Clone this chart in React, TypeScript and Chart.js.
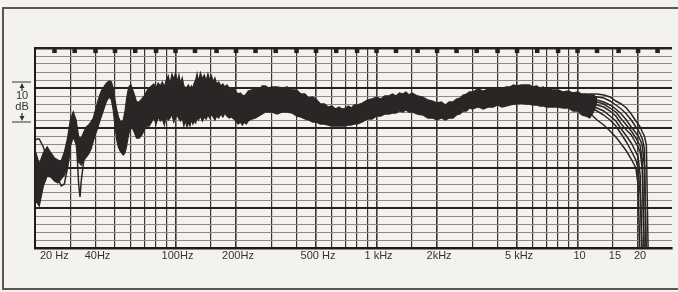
import React, { useEffect, useRef } from 'react';
import { Chart, registerables } from 'chart.js';

Chart.register(...registerables);

const PAPER = '#f4f2ef';
const INK = '#2b2626';

// vertical grid frequencies (Hz)
const gridFreqs = [20, 30, 40, 50, 60, 70, 80, 90, 100, 150, 200, 300, 400, 500, 600, 700, 800, 900,
  1000, 1500, 2000, 3000, 4000, 5000, 6000, 7000, 8000, 9000, 10000, 15000, 20000];
// horizontal grid (dB)
const dbGrid = [0, 2, 4, 6, 8, 10, 12, 14, 16, 18, 20, 22, 24, 26, 28, 30, 32, 34, 36, 38, 40, 42, 44, 46, 48, 50];

// frequency axis labels
const labelFreqs = [20, 40, 100, 200, 500, 1000, 2000, 5000, 10000, 15000, 20000];
const labelTexts = ['20 Hz', '40Hz', '100Hz', '200Hz', '500 Hz', '1 kHz', '2kHz', '5 kHz', '10', '15', '20'];

// third-octave marker squares along the top edge
const markerFreqs = [25, 31.5, 40, 50, 63, 80, 100, 125, 160, 200, 250, 315, 400, 500, 630, 800, 1000,
  1250, 1600, 2000, 2500, 3150, 4000, 5000, 6300, 8000, 10000, 12500, 16000, 20000, 25000];
const markerLevel = 49.3;

// 10 dB scale marker
const markTop = 41.5;
const markBottom = 31.5;

// band of overlaid measurement traces: upper / lower envelopes (dB)
const bandFreq = [
  20, 21, 22, 23, 24, 25, 26, 27, 28, 29,
  30, 31, 32, 33, 34, 35, 36, 37, 38, 39,
  40, 41, 42, 43, 44, 45, 46, 47, 48, 49,
  50, 51, 52, 53, 54, 55, 56, 57, 58, 59,
  60, 62, 64, 66, 68, 70, 72, 74, 76, 78,
  80, 82, 84, 86, 88, 90, 92, 94, 96, 98,
  100, 102, 104, 106, 108, 110, 112, 114, 116, 118,
  120, 122, 124, 126, 128, 130, 133, 136, 139,
  142, 145, 148, 151, 154, 157, 160, 164, 168, 172,
  176, 180, 185, 190, 195, 200, 205, 210, 215, 220, 225,
  230, 240, 250, 260, 270, 280, 290, 300,
  320, 340, 360, 380, 400, 420, 440, 460, 480,
  500, 525, 550, 575, 600, 625, 650, 675, 700, 725, 750, 775, 800,
  850, 900, 950, 1000, 1050, 1100, 1150, 1200, 1250, 1300, 1350, 1400, 1450, 1500,
  1600, 1700, 1800, 1900, 2000, 2100, 2200, 2300, 2400, 2500, 2600, 2700, 2800, 2900, 3000,
  3200, 3400, 3600, 3800, 4000, 4200, 4400, 4600, 4800, 5000,
  5250, 5500, 5750, 6000, 6250, 6500, 6750, 7000, 7250, 7500,
  8000, 8500, 9000, 9500, 10000, 10500, 11000, 11500, 12000, 12500,
];
const bandUpper = [
  24.5, 21.0, 23.75, 25.25, 23.75, 22.5, 22.0, 21.75, 24.0, 27.25,
  32.0, 34.0, 32.0, 27.75, 27.5, 29.0, 30.25, 30.75, 31.5, 32.5,
  34.5, 36.5, 38.25, 39.5, 40.25, 41.0, 41.5, 41.75, 41.5, 39.75,
  37.0, 34.5, 32.75, 31.75, 31.5, 32.0, 34.0, 37.0, 39.25, 40.5,
  40.75, 38.75, 36.5, 36.5, 37.25, 38.0, 39.25, 40.0, 40.5, 41.0,
  40.0, 41.25, 40.5, 41.5, 40.25, 42.0, 43.0, 41.0, 43.5, 42.0,
  43.75, 41.5, 43.25, 41.0, 42.5, 40.5, 40.0, 40.25, 40.75, 39.75,
  40.5, 40.0, 41.25, 42.0, 43.5, 41.5, 43.75, 42.25, 43.25,
  41.75, 43.5, 42.0, 43.0, 41.5, 42.5, 41.0, 41.5, 40.5, 41.0,
  40.25, 40.75, 40.0, 39.5, 39.75, 39.0, 38.5, 38.75, 38.25, 38.0, 38.5,
  39.25, 39.5, 40.0, 39.5, 40.5, 40.5, 40.0, 40.25,
  40.25, 40.0, 40.25, 39.5, 39.5, 38.5, 38.5, 37.5, 37.75,
  37.25, 36.0, 36.0, 35.25, 35.5, 34.75, 35.25, 34.75, 35.0, 35.5, 35.0, 35.75, 35.75,
  36.25, 37.0, 37.25, 37.75, 37.25, 38.0, 38.0, 38.5, 38.0, 38.75, 38.5, 39.0, 38.25, 38.75,
  38.0, 37.75, 37.0, 36.75, 36.25, 36.5, 35.75, 36.5, 36.5, 37.25, 37.5, 38.25, 38.5, 39.0, 39.0,
  39.75, 39.25, 39.75, 39.75, 40.0, 39.75, 40.25, 40.25, 40.75, 40.5,
  40.75, 40.75, 40.75, 40.25, 40.5, 40.0, 40.25, 39.75, 39.75, 39.5,
  39.5, 39.0, 39.25, 38.75, 39.0, 38.5, 38.5, 38.25, 38.25, 37.5,
];
const bandLower = [
  12.0, 10.5, 15.5, 18.0, 17.75, 16.75, 16.25, 17.25, 18.25, 20.5,
  25.5, 27.75, 26.0, 21.5, 20.75, 22.0, 22.75, 23.5, 24.75, 26.75,
  28.5, 30.0, 31.75, 33.25, 34.75, 36.25, 37.25, 37.75, 37.0, 34.5,
  30.5, 27.0, 25.25, 24.25, 23.75, 23.25, 23.75, 25.25, 27.5, 29.25,
  30.5, 29.25, 27.5, 27.5, 28.25, 29.5, 30.5, 30.5, 31.5, 32.5,
  31.0, 32.75, 31.75, 32.25, 30.75, 33.0, 32.0, 32.5, 33.5, 31.5,
  32.5, 33.25, 32.25, 31.75, 32.75, 30.5, 32.0, 30.25, 31.5, 30.5,
  32.25, 31.0, 31.75, 31.25, 32.75, 32.0, 33.0, 31.75, 32.75,
  32.25, 33.25, 32.5, 33.5, 32.75, 32.0, 33.0, 32.5, 33.5, 32.75,
  33.75, 33.0, 32.5, 32.75, 32.25, 31.75, 31.0, 31.5, 30.75, 31.5, 31.0,
  31.75, 32.25, 32.5, 33.0, 33.5, 34.0, 34.0, 34.0,
  33.5, 34.0, 34.0, 33.75, 33.0, 32.75, 32.25, 32.0, 31.5,
  31.5, 31.0, 31.0, 30.75, 30.5, 30.5, 30.5, 30.5, 30.5, 30.75, 30.75, 31.0, 31.0,
  31.5, 32.25, 32.25, 33.0, 33.0, 33.5, 33.5, 33.75, 33.75, 34.25, 34.0, 34.5, 34.0, 34.0,
  33.5, 33.25, 32.5, 32.5, 32.0, 32.5, 32.0, 32.5, 32.5, 33.25, 33.5, 34.25, 34.25, 35.0, 34.75,
  35.25, 34.75, 35.25, 35.25, 35.75, 35.25, 35.5, 35.75, 36.0, 36.0,
  36.25, 36.0, 36.0, 35.75, 35.75, 35.5, 35.5, 35.25, 35.25, 35.25,
  35.25, 35.0, 35.0, 34.25, 34.25, 33.25, 33.0, 32.5, 34.0, 36.5,
];

// individual traces separating in the treble roll-off
const hfFreq = [10000, 10500, 11500, 12500, 13500, 14500, 15500, 16500, 17500, 18500, 19500, 20000, 20500, 21000, 21500, 22000, 22500];
const hfTrace1 = [38.5, 38.25, 38.5, 38.5, 38.25, 37.75, 36.75, 36.0, 35.0, 33.5, 31.75, 31.0, 30.25, 29.0, 28.0, 25.75, -4];
const hfTrace2 = [38.5, 38.0, 38.0, 37.75, 37.5, 36.75, 35.75, 34.75, 33.5, 32.0, 30.25, 29.5, 28.5, 27.25, 25.0, -4, null];
const hfTrace3 = [38.25, 37.75, 37.5, 37.0, 36.5, 35.75, 34.75, 33.5, 32.0, 30.25, 28.75, 28.0, 27.0, 25.5, 20.75, -4, null];
const hfTrace4 = [38.0, 37.5, 37.0, 36.5, 36.0, 35.0, 34.0, 32.25, 30.75, 29.25, 27.5, 26.5, 25.5, 22.0, -4, null, null];
const hfTrace5 = [37.75, 37.0, 36.25, 35.75, 35.25, 34.25, 33.0, 31.0, 29.5, 28.25, 26.25, 25.25, 24.0, 19.5, -4, null, null];
const hfTrace6 = [37.5, 36.5, 35.75, 35.0, 34.25, 33.0, 31.75, 29.75, 28.0, 26.25, 24.0, 22.75, 18.0, -4, null, null, null];
const hfTrace7 = [37.0, 36.0, 35.25, 34.25, 33.25, 32.0, 30.5, 28.5, 26.5, 24.25, 22.0, 20.0, 13.25, -4, null, null, null];
const hfTrace8 = [36.5, 35.25, 33.75, 32.0, 30.75, 29.25, 27.75, 26.0, 24.25, 22.25, 20.0, 15.75, -4, null, null, null, null];

// individual traces straying from the band in the bass
const lfArchFreq = [20, 20.5, 21, 22, 23];
const lfArch = [27.0, 27.25, 27.25, 25.25, 22.0];
const lfDipAFreq = [31, 32, 33, 33.5, 34, 35, 36];
const lfDipA = [32.0, 28.25, 15.75, 12.75, 17.0, 22.0, 24.5];
const lfDipBFreq = [25, 26, 27, 28, 29, 30];
const lfDipB = [19.0, 17.5, 15.5, 16.0, 20.0, 24.5];

const pts = (xs: number[], ys: (number | null)[]) => xs.map((x, i) => ({ x, y: ys[i] }));

const boldFreqs = [20, 100, 200, 500, 1000, 2000, 5000, 10000, 20000];

const annotPlugin = {
  id: 'annot',
  afterDraw(chart: any) {
    const { ctx, chartArea } = chart;
    const xs = chart.scales.x;
    const ys = chart.scales.y;
    ctx.save();
    ctx.fillStyle = '#333';
    ctx.font = '11px "Liberation Sans", Arial, sans-serif';
    ctx.textBaseline = 'middle';
    const ly = chartArea.bottom + 8;
    labelFreqs.forEach((f, i) => {
      const px = xs.getPixelForValue(f);
      if (i === 0) {
        ctx.textAlign = 'left';
        ctx.fillText(labelTexts[i], px + 5, ly);
      } else {
        ctx.textAlign = 'center';
        ctx.fillText(labelTexts[i], px + 2, ly);
      }
    });

    // 10 dB marker
    const yT = ys.getPixelForValue(markTop);
    const yB = ys.getPixelForValue(markBottom);
    const cx = 22;
    ctx.strokeStyle = '#333';
    ctx.lineWidth = 1.2;
    ctx.beginPath();
    ctx.moveTo(12, yT); ctx.lineTo(31, yT);
    ctx.moveTo(12, yB); ctx.lineTo(31, yB);
    ctx.moveTo(cx, yT + 5); ctx.lineTo(cx, yT + 9);
    ctx.moveTo(cx, yB - 5); ctx.lineTo(cx, yB - 9);
    ctx.stroke();
    ctx.fillStyle = '#333';
    ctx.beginPath();
    ctx.moveTo(cx, yT + 1); ctx.lineTo(cx - 2.5, yT + 6); ctx.lineTo(cx + 2.5, yT + 6); ctx.closePath();
    ctx.moveTo(cx, yB - 1); ctx.lineTo(cx - 2.5, yB - 6); ctx.lineTo(cx + 2.5, yB - 6); ctx.closePath();
    ctx.fill();
    ctx.textAlign = 'center';
    ctx.fillText('10', cx, yT + 14);
    ctx.fillText('dB', cx, yT + 25);
    ctx.restore();
  },
};

export default function App() {
  const ref = useRef<HTMLCanvasElement>(null);
  useEffect(() => {
    document.body.style.margin = '0';
    document.body.style.background = PAPER;
    const traceStyle = { borderColor: INK, borderWidth: 1.5, pointRadius: 0, fill: false, tension: 0, clip: 0 };
    const chart = new Chart(ref.current as HTMLCanvasElement, {
      type: 'line',
      data: {
        datasets: [
          { data: pts(bandFreq, bandUpper), borderColor: INK, borderWidth: 1.3, pointRadius: 0, fill: false, tension: 0 },
          { data: pts(bandFreq, bandLower), borderColor: INK, borderWidth: 1.3, pointRadius: 0, fill: '-1', backgroundColor: INK, tension: 0 },
          { data: pts(hfFreq, hfTrace1), ...traceStyle },
          { data: pts(hfFreq, hfTrace2), ...traceStyle },
          { data: pts(hfFreq, hfTrace3), ...traceStyle },
          { data: pts(hfFreq, hfTrace4), ...traceStyle },
          { data: pts(hfFreq, hfTrace5), ...traceStyle },
          { data: pts(hfFreq, hfTrace6), ...traceStyle },
          { data: pts(hfFreq, hfTrace7), ...traceStyle },
          { data: pts(hfFreq, hfTrace8), ...traceStyle },
          { data: pts(lfArchFreq, lfArch), ...traceStyle },
          { data: pts(lfDipAFreq, lfDipA), ...traceStyle },
          { data: pts(lfDipBFreq, lfDipB), ...traceStyle },
          {
            data: markerFreqs.map((f) => ({ x: f, y: markerLevel })),
            showLine: false, pointStyle: 'rect', pointRadius: 3.2, pointBackgroundColor: '#222',
            pointBorderWidth: 0, borderColor: '#222',
          },
        ] as any,
      },
      options: {
        responsive: false,
        devicePixelRatio: 1,
        animation: false,
        events: [],
        layout: { padding: { left: 35, top: 48, right: 6, bottom: 44 } },
        plugins: { legend: { display: false }, tooltip: { enabled: false } },
        scales: {
          x: {
            type: 'logarithmic',
            min: 20,
            max: 29500,
            afterBuildTicks: (s: any) => { s.ticks = gridFreqs.map((v) => ({ value: v })); },
            ticks: { display: false },
            grid: {
              drawTicks: false,
              color: '#3a3535',
              lineWidth: (c: any) => (boldFreqs.includes(c.tick?.value) ? 1.6 : 1.2),
            },
            border: { display: true, color: '#1f1b1b', width: 2.5 },
          },
          y: {
            min: 0,
            max: 50,
            afterBuildTicks: (s: any) => { s.ticks = dbGrid.map((v) => ({ value: v })); },
            ticks: { display: false },
            grid: {
              drawTicks: false,
              color: (c: any) => (c.tick?.value % 10 === 0 ? '#272222' : '#8e8989'),
              lineWidth: (c: any) => (c.tick?.value === 50 ? 2.5 : c.tick?.value % 10 === 0 ? 2 : 1),
            },
            border: { display: true, color: '#1f1b1b', width: 2 },
          },
        },
      } as any,
      plugins: [annotPlugin],
    });
    return () => chart.destroy();
  }, []);

  return (
    <div style={{ position: 'relative', width: 678, height: 292, overflow: 'hidden', background: PAPER }}>
      <canvas ref={ref} width={678} height={292} style={{ position: 'absolute', left: 0, top: 0, width: 678, height: 292, display: 'block' }} />
      <div style={{ position: 'absolute', left: 2, top: 7, width: 690, height: 283, border: '2px solid #5a5656', boxSizing: 'border-box', pointerEvents: 'none' }} />
    </div>
  );
}
